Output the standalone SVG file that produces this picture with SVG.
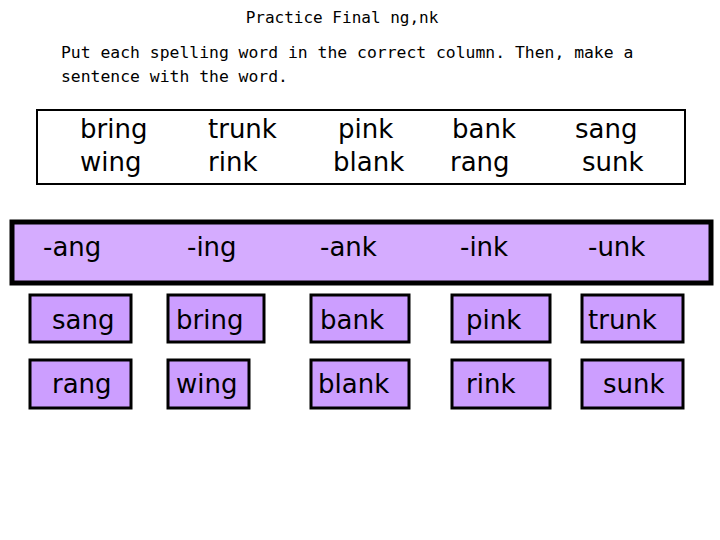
<svg xmlns="http://www.w3.org/2000/svg" width="720" height="540" viewBox="0 0 720 540">
<style>
.m{font-family:"DejaVu Sans Mono","Liberation Mono",monospace;fill:#000}
.w{font-family:"DejaVu Sans","Liberation Sans",sans-serif;font-size:26px;fill:#000}
.b{fill:#cc9eff;stroke:#000;stroke-width:3}
</style>
<rect width="720" height="540" fill="#fff"/>
<text class="m" x="342" y="23" font-size="16" text-anchor="middle">Practice Final ng,nk</text>
<text class="m" x="61" y="58" font-size="16.4">Put each spelling word in the correct column. Then, make a</text>
<text class="m" x="61" y="82" font-size="16.4">sentence with the word.</text>
<g id="wordbank">
<rect x="37" y="110" width="648" height="74" fill="#fff" stroke="#000" stroke-width="2"/>
<text class="w" x="80" y="138">bring</text><text class="w" x="80" y="171">wing</text>
<text class="w" x="208" y="138">trunk</text><text class="w" x="208" y="171">rink</text>
<text class="w" x="338" y="138">pink</text><text class="w" x="333" y="171">blank</text>
<text class="w" x="452" y="138">bank</text><text class="w" x="450" y="171">rang</text>
<text class="w" x="575" y="138">sang</text><text class="w" x="582" y="171">sunk</text>
</g>
<g id="header">
<rect x="12" y="222" width="699" height="61" fill="#d5acff" stroke="#000" stroke-width="5"/>
<text class="w" x="43" y="256" font-size="28">-ang</text>
<text class="w" x="187" y="256" font-size="28">-ing</text>
<text class="w" x="320" y="256" font-size="28">-ank</text>
<text class="w" x="460" y="256" font-size="28">-ink</text>
<text class="w" x="588" y="256" font-size="28">-unk</text>
</g>
<g id="answers">
<rect class="b" x="30" y="295" width="101" height="47"/><text class="w" x="52" y="329">sang</text>
<rect class="b" x="168" y="295" width="96" height="47"/><text class="w" x="176" y="329">bring</text>
<rect class="b" x="311" y="295" width="98" height="47"/><text class="w" x="320" y="329">bank</text>
<rect class="b" x="452" y="295" width="98" height="47"/><text class="w" x="466" y="329">pink</text>
<rect class="b" x="582" y="295" width="101" height="47"/><text class="w" x="588" y="329">trunk</text>
<rect class="b" x="30" y="360" width="101" height="48"/><text class="w" x="52" y="393">rang</text>
<rect class="b" x="168" y="360" width="81" height="48"/><text class="w" x="176" y="393">wing</text>
<rect class="b" x="311" y="360" width="98" height="48"/><text class="w" x="318" y="393">blank</text>
<rect class="b" x="452" y="360" width="98" height="48"/><text class="w" x="466" y="393">rink</text>
<rect class="b" x="582" y="360" width="101" height="48"/><text class="w" x="603" y="393">sunk</text>
</g>
</svg>
